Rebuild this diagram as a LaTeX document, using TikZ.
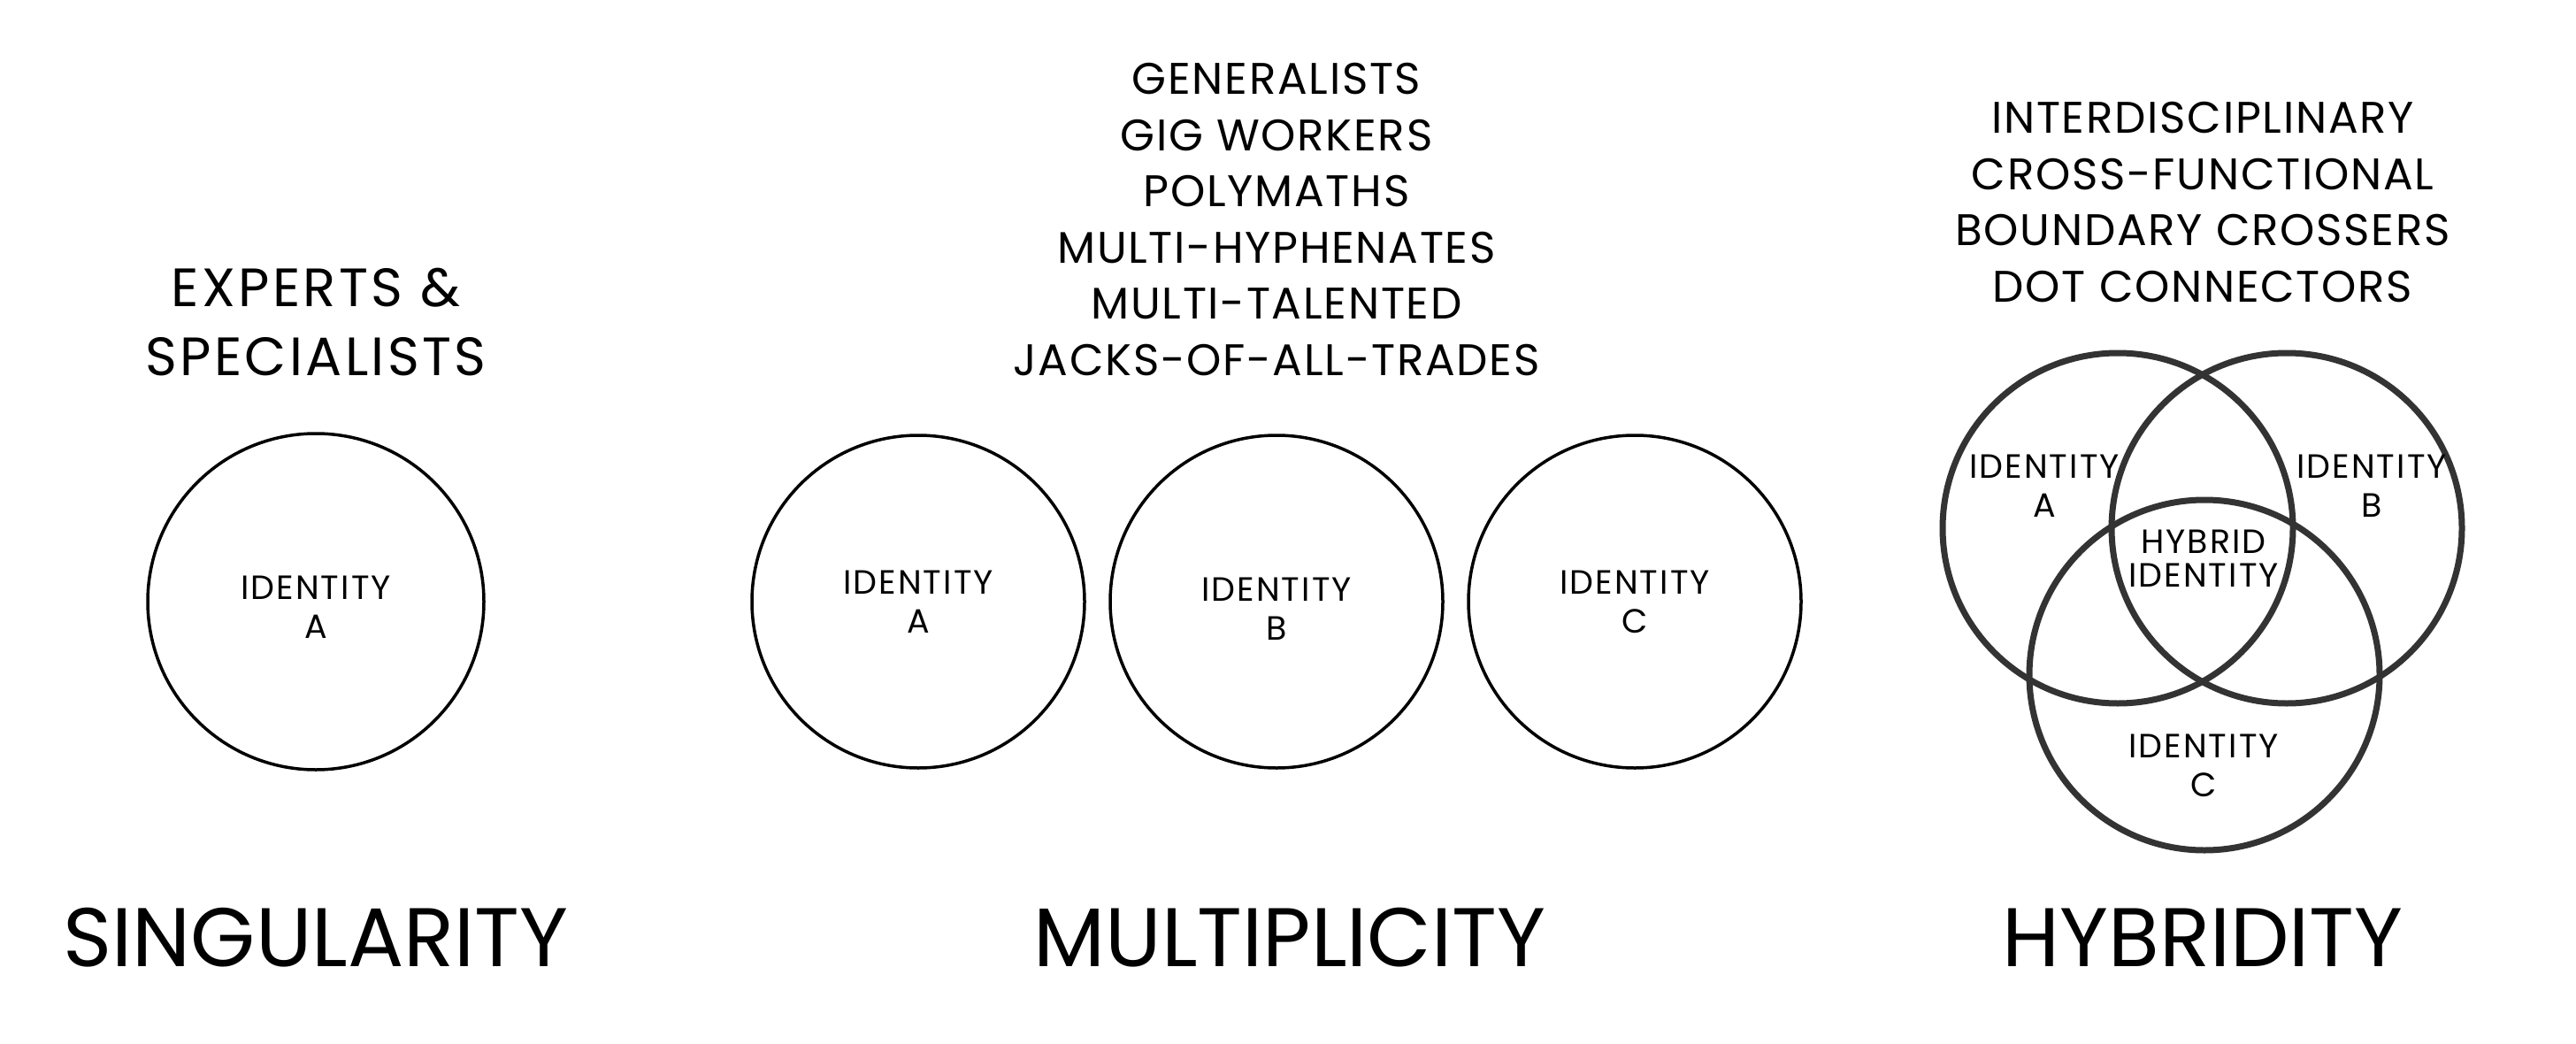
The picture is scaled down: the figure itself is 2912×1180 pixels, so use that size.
\documentclass[tikz,border=0pt]{standalone}
\usepackage{fontspec}
\setmainfont{Poppins}
\newfontfamily\widefont[LetterSpace=5.5]{Poppins}
\newfontfamily\listfont[LetterSpace=3.5]{Poppins}
\definecolor{ringgray}{HTML}{333333}
\begin{document}
\begin{tikzpicture}[x=1pt,y=-1pt,
  thinring/.style={circle, draw=black, line width=3.5pt, minimum size=#1, inner sep=0pt},
  thickring/.style={circle, draw=ringgray, line width=7pt, minimum size=#1, inner sep=0pt},
  idlabel/.style={align=center, inner sep=0pt, font=\widefont\fontsize{38}{44}\selectfont},
  hylabel/.style={align=center, inner sep=0pt, font=\widefont\fontsize{38}{38}\selectfont},
  listtext/.style={align=center, inner sep=0pt, font=\listfont\fontsize{50}{63.6}\selectfont},
  subtitle/.style={align=center, inner sep=0pt, font=\widefont\fontsize{61}{78}\selectfont},
  maintitle/.style={inner sep=0pt, font=\fontsize{94}{110}\selectfont}]
\fill[white] (0,0) rectangle (2912,1180);
\useasboundingbox (0,0) rectangle (2912,1180);

% Singularity
\node[subtitle] (expert) at (357,364) {EXPERTS \&\\SPECIALISTS};
\node[thinring=380pt] (sA) at (357,680) {};
\node[idlabel] (sAt) at (357,686) {IDENTITY\\A};
\node[maintitle] (tSing) at (357,1060) {SINGULARITY};

% Multiplicity
\node[listtext] (mlist) at (1443,248) {GENERALISTS\\GIG WORKERS\\POLYMATHS\\MULTI-HYPHENATES\\MULTI-TALENTED\\JACKS-OF-ALL-TRADES};
\node[thinring=376pt] (mA) at (1038,680) {};
\node[thinring=376pt] (mB) at (1443,680) {};
\node[thinring=376pt] (mC) at (1848,680) {};
\node[idlabel] (mAt) at (1038,680) {IDENTITY\\A};
\node[idlabel] (mBt) at (1443,688) {IDENTITY\\B};
\node[idlabel] (mCt) at (1848,680) {IDENTITY\\C};
\node[maintitle] (tMult) at (1458,1060) {MULTIPLICITY};

% Hybridity
\node[listtext] (hlist) at (2490,228.5) {INTERDISCIPLINARY\\CROSS-FUNCTIONAL\\BOUNDARY CROSSERS\\DOT CONNECTORS};
\node[thickring=396pt] (hA) at (2394,597) {};
\node[thickring=396pt] (hB) at (2585,597) {};
\node[thickring=396pt] (hC) at (2492,763) {};
\node[idlabel] (hAt) at (2311,549) {IDENTITY\\A};
\node[idlabel] (hBt) at (2681,549) {IDENTITY\\B};
\node[hylabel] (hH) at (2491,631) {HYBRID\\IDENTITY};
\node[idlabel] (hCt) at (2491,865) {IDENTITY\\C};
\node[maintitle] (tHyb) at (2490,1060) {HYBRIDITY};
\end{tikzpicture}
\end{document}
